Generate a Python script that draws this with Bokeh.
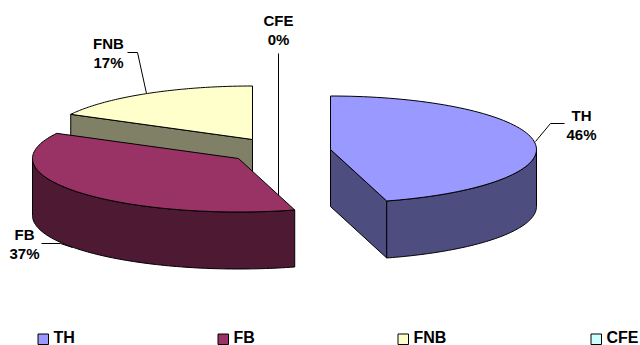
import numpy as np
from bokeh.core.properties import value
from bokeh.embed import file_html
from bokeh.models import Range1d
from bokeh.plotting import figure
from bokeh.resources import INLINE

# Share of each component, in percent
categories = ["TH", "FB", "FNB", "CFE"]
shares = [45.6, 37.2, 17.2, 0.0]
top_colors = ["#9999FF", "#993366", "#FFFFCC", "#CCFFFF"]
side_colors = ["#4D4D80", "#4D1933", "#808066", "#668080"]

# Projection of the exploded pie: ellipse radii, wall height, slice centres
RX, RY, DEPTH = 206, 53.5, 57
centers = {"TH": (330, 149), "FB": (238, 158), "FNB": (252, 139), "CFE": (278, 150)}

edges = np.cumsum([0] + shares) * 3.6
angles = {c: (edges[i], edges[i + 1]) for i, c in enumerate(categories)}


def rim(cat, start, stop, drop=0.0):
    cx, cy = centers[cat]
    t = np.radians(np.linspace(start, stop, 90))
    return cx + RX * np.sin(t), cy - RY * np.cos(t) + drop


p = figure(width=640, height=345, output_backend="svg", toolbar_location=None,
           x_range=Range1d(0, 640), y_range=Range1d(345, 0),
           min_border=0, outline_line_color=None, background_fill_color="white")
p.axis.visible = False
p.grid.visible = False


def shape(xs, ys, fill):
    p.patch(list(xs), list(ys), fill_color=fill, line_color="black", line_width=1,
            line_join="miter")


def top_face(i):
    cat = categories[i]
    x, y = rim(cat, *angles[cat])
    cx, cy = centers[cat]
    shape(np.r_[cx, x], np.r_[cy, y], top_colors[i])


def cut_face(i, angle):
    # Flat wall running from the slice centre out to the rim at the given angle
    cat = categories[i]
    cx, cy = centers[cat]
    x, y = rim(cat, angle, angle)
    shape([cx, x[0], x[0], cx], [cy, y[0], y[0] + DEPTH, cy + DEPTH], side_colors[i])


def rim_wall(i, start, stop):
    cat = categories[i]
    x, y = rim(cat, start, stop)
    xb, yb = rim(cat, stop, start, DEPTH)
    shape(np.r_[x, xb], np.r_[y, yb], side_colors[i])


# Leader lines sit behind the slices
leaders = [
    ([278, 278], [53, 200]),
    ([127, 137, 146], [52, 52, 93]),
    ([564, 550, 535], [123, 123, 141]),
    ([41, 60, 72], [243, 243, 247]),
]
for lx, ly in leaders:
    p.line(lx, ly, line_color="black", line_width=1)

# FNB, back slice
cut_face(2, angles["FNB"][0])
top_face(2)

# FB, front-left slice
rim_wall(1, angles["FB"][0], 270)
top_face(1)

# TH, right slice
cut_face(0, angles["TH"][1])
rim_wall(0, 90, angles["TH"][1])
top_face(0)

# Data labels: name above the rounded percentage
label_pos = {"TH": (581, 115), "FB": (24, 234), "FNB": (108, 43), "CFE": (278, 20)}
for cat, share in zip(categories, shares):
    lx, ly = label_pos[cat]
    p.text([lx, lx], [ly, ly + 19], text=[cat, f"{round(share)}%"],
           text_font=value("Liberation Sans"), text_font_style="bold",
           text_font_size="15px", text_align="center", text_baseline="middle",
           text_color="black")

# Legend along the bottom edge
legend_x = [37, 217, 397, 590]
for x0, cat, color in zip(legend_x, categories, top_colors):
    p.quad(left=[x0 + 0.5], right=[x0 + 11], top=[333.5], bottom=[344], fill_color=color,
           line_color="black", line_width=1)
    p.text([x0 + 16], [336.5], text=[cat], text_font=value("Liberation Sans"),
           text_font_style="bold", text_font_size="16px", text_align="left",
           text_baseline="middle", text_color="black")

open("out.html", "w").write(file_html(p, INLINE))
